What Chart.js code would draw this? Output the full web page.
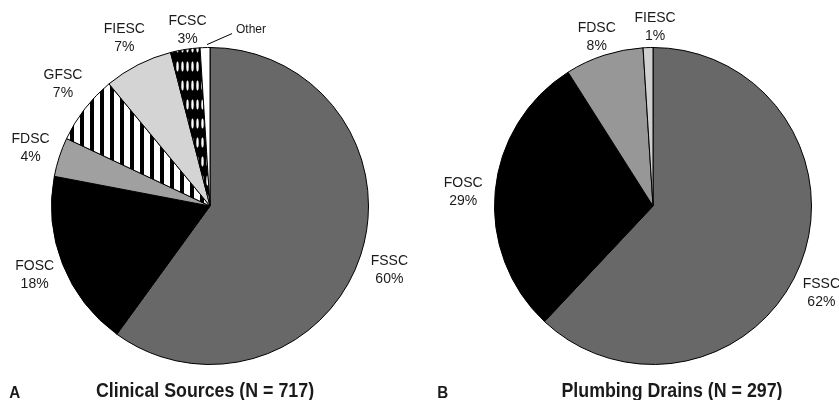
<!DOCTYPE html>
<html>
<head>
<meta charset="utf-8">
<script src="https://cdn.jsdelivr.net/npm/chart.js@4.4.1/dist/chart.umd.min.js"></script>
<style>
  html, body { margin: 0; padding: 0; background: #fff; }
  body { width: 839px; height: 400px; position: relative; overflow: hidden; font-family: 'Liberation Sans', Arial, sans-serif; color: #1a1a1a; }
  .pane { position: absolute; top: 0; height: 400px; }
  .title { position: absolute; top: 380px; font-weight: bold; font-size: 20px; line-height: 20px; white-space: nowrap; transform: translateX(-50%) scaleX(0.89); }
  .letter { position: absolute; top: 385px; font-weight: bold; font-size: 16px; line-height: 16px; transform: scaleX(0.95); }
</style>
</head>
<body>
<div class="pane" style="left:0;width:420px"><canvas id="clinicalChart"></canvas></div>
<div class="pane" style="left:420px;width:419px"><canvas id="drainChart"></canvas></div>
<div class="letter" style="left:9px">A</div>
<div class="title" style="left:205px">Clinical Sources (N = 717)</div>
<div class="letter" style="left:437px">B</div>
<div class="title" style="left:672px">Plumbing Drains (N = 297)</div>
<script>
const clinicalLabels = ['FSSC', 'FOSC', 'FDSC', 'GFSC', 'FIESC', 'FCSC', 'Other'];
const clinicalValues = [60, 18, 4, 7, 7, 3, 1];

const drainLabels = ['FSSC', 'FOSC', 'FDSC', 'FIESC'];
const drainValues = [62, 29, 8, 1];

function stripePattern() {
  const c = document.createElement('canvas');
  c.width = 10; c.height = 10;
  const g = c.getContext('2d');
  g.fillStyle = '#fff';
  g.fillRect(0, 0, 10, 10);
  g.fillStyle = '#000';
  g.fillRect(0, 0, 4, 10);
  return g.createPattern(c, 'repeat');
}

function ovalPattern() {
  const c = document.createElement('canvas');
  c.width = 5; c.height = 19;
  const g = c.getContext('2d');
  g.fillStyle = '#000';
  g.fillRect(0, 0, 5, 19);
  g.fillStyle = '#fff';
  g.beginPath();
  g.ellipse(2.5, 9.5, 1.2, 5, 0, 0, Math.PI * 2);
  g.fill();
  return g.createPattern(c, 'repeat');
}

const sliceLabels = {
  id: 'sliceLabels',
  afterDatasetsDraw(chart, args, opts) {
    const ctx = chart.ctx;
    const data = chart.data.datasets[0].data;
    const nudges = opts.nudges || {};
    ctx.save();
    ctx.fillStyle = '#1a1a1a';
    ctx.textAlign = 'center';
    ctx.textBaseline = 'middle';
    chart.getDatasetMeta(0).data.forEach((arc, i) => {
      const { x, y, startAngle, endAngle, outerRadius } = arc.getProps(['x', 'y', 'startAngle', 'endAngle', 'outerRadius'], true);
      const mid = (startAngle + endAngle) / 2;
      const name = chart.data.labels[i];
      const n = nudges[name] || [0, 0];
      if (name === 'Other') {
        const sx = x + Math.cos(mid) * outerRadius;
        const sy = y + Math.sin(mid) * outerRadius;
        ctx.strokeStyle = '#000';
        ctx.lineWidth = 1;
        ctx.beginPath();
        ctx.moveTo(sx + 2, sy - 3);
        ctx.lineTo(sx + n[0], sy + n[1]);
        ctx.stroke();
        ctx.font = '12px "Liberation Sans", Arial, sans-serif';
        ctx.textAlign = 'left';
        ctx.fillText(name, sx + n[0] + 4, sy + n[1] - 4);
        ctx.textAlign = 'center';
        return;
      }
      const r = outerRadius * 1.19;
      const lx = x + Math.cos(mid) * r + n[0];
      const ly = y + Math.sin(mid) * r + n[1];
      ctx.font = '14px "Liberation Sans", Arial, sans-serif';
      ctx.fillText(name, lx, ly - 9);
      ctx.fillText(data[i] + '%', lx, ly + 9);
    });
    ctx.restore();
  }
};

function pieOptions(padding, nudges) {
  return {
    responsive: true,
    maintainAspectRatio: false,
    animation: false,
    layout: { padding },
    plugins: {
      legend: { display: false },
      tooltip: { enabled: false },
      sliceLabels: { nudges }
    }
  };
}

new Chart(document.querySelector('#clinicalChart'), {
  type: 'pie',
  data: {
    labels: clinicalLabels,
    datasets: [{
      data: clinicalValues,
      backgroundColor: ['#686868', '#000000', '#a0a0a0', stripePattern(), '#d4d4d4', ovalPattern(), '#ffffff'],
      borderColor: '#000',
      borderWidth: 1
    }]
  },
  options: pieOptions({ left: 51, right: 51, top: 47, bottom: 35 }, {
    FSSC: [0, 6],
    GFSC: [2, -6],
    FCSC: [7, 10],
    Other: [27, -14]
  }),
  plugins: [sliceLabels]
});

new Chart(document.querySelector('#drainChart'), {
  type: 'pie',
  data: {
    labels: drainLabels,
    datasets: [{
      data: drainValues,
      backgroundColor: ['#686868', '#000000', '#979797', '#d0d0d0'],
      borderColor: '#000',
      borderWidth: 1
    }]
  },
  options: pieOptions({ left: 74, right: 27, top: 47, bottom: 35 }, {
    FSSC: [-7, 18],
    FOSC: [-2, 4],
    FDSC: [2, 11],
    FIESC: [8, 10]
  }),
  plugins: [sliceLabels]
});
</script>
</body>
</html>
